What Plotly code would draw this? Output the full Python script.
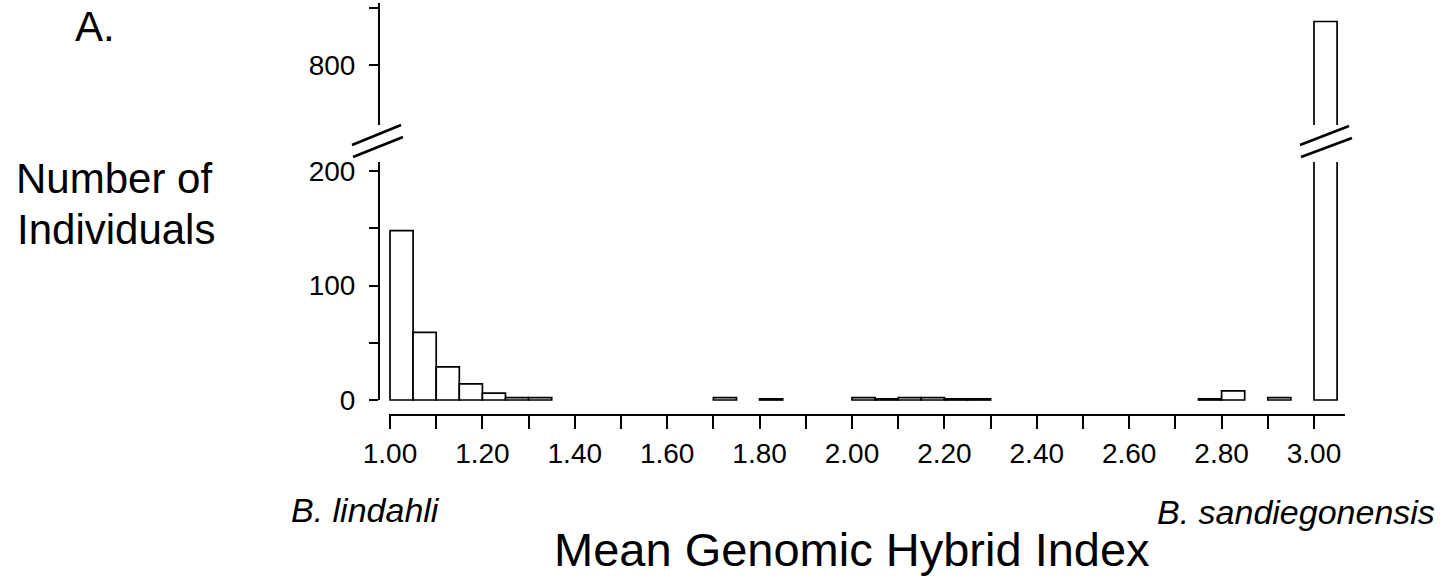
import plotly.graph_objects as go

# ---- data ----
bin_starts = [1.00, 1.05, 1.10, 1.15, 1.20, 1.25, 1.30, 1.70, 1.80,
              2.00, 2.05, 2.10, 2.15, 2.20, 2.25, 2.75, 2.80, 2.90, 3.00]
counts = [148, 59, 29, 14, 6, 2, 2, 2, 1,
          2, 1, 2, 2, 1, 1, 1, 8, 2, 838]
bin_width = 0.05

x_tick_vals = [1.0, 1.2, 1.4, 1.6, 1.8, 2.0, 2.2, 2.4, 2.6, 2.8, 3.0]
x_tick_text = ["1.00", "1.20", "1.40", "1.60", "1.80", "2.00",
               "2.20", "2.40", "2.60", "2.80", "3.00"]
x_minor_vals = [1.1, 1.3, 1.5, 1.7, 1.9, 2.1, 2.3, 2.5, 2.7, 2.9]
low_tick_vals = [0, 100, 200]
low_minor_vals = [50, 150]
up_tick_vals = [800]
up_minor_vals = [850]

# ---- layout geometry (pixels) ----
W, H = 1441, 577
L, R, T, B = 379, 1345, 3, 415          # plot area edges
PW, PH = R - L, B - T
PX_PER_X = 462.0                         # pixels per unit of x
X_LEFT = 1.0 - (390 - L) / PX_PER_X
X_RIGHT = 1.0 + (R - 390) / PX_PER_X
PX_PER_Y = 1.145                         # pixels per count
Y0_PIX = 400                             # pixel row of zero
LOW_TOP_PIX, UP_BOT_PIX = 162, 125

def px(x):
    return (x - L) / PW

def py(y):
    return (B - y) / PH

low_range = [-(B - Y0_PIX) / PX_PER_Y, (Y0_PIX - LOW_TOP_PIX) / PX_PER_Y]
up_range = [800 - (UP_BOT_PIX - 65) / PX_PER_Y, 800 + (65 - T) / PX_PER_Y]

FONT = "Liberation Sans, Arial, Helvetica, sans-serif"

centers = [s + bin_width / 2 for s in bin_starts]
bar_style = dict(marker=dict(color="white", line=dict(color="black", width=1.7)),
                 width=bin_width, showlegend=False, hoverinfo="x+y")

fig = go.Figure()
fig.add_trace(go.Bar(x=centers, y=counts, yaxis="y", **bar_style))
fig.add_trace(go.Bar(x=centers, y=counts, yaxis="y2", **bar_style))

axis_common = dict(showgrid=False, zeroline=False, showline=False, automargin=False,
                   ticks="outside", tickcolor="black", tickwidth=1.5,
                   tickfont=dict(family=FONT, size=28, color="black"))
minor_common = dict(ticks="outside", tickcolor="black", tickwidth=1.5)

fig.update_layout(
    width=W, height=H, autosize=False,
    margin=dict(l=L, r=W - R, t=T, b=H - B, pad=0, autoexpand=False),
    paper_bgcolor="white", plot_bgcolor="white",
    barmode="overlay",
    xaxis=dict(range=[X_LEFT, X_RIGHT], tickvals=x_tick_vals, ticktext=x_tick_text,
               ticklen=13, minor=dict(tickvals=x_minor_vals, ticklen=13, **minor_common),
               **axis_common),
    yaxis=dict(domain=[0, py(LOW_TOP_PIX)], range=low_range, tickvals=low_tick_vals,
               ticklen=9, ticklabelstandoff=8,
               minor=dict(tickvals=low_minor_vals, ticklen=9, **minor_common),
               **axis_common),
    yaxis2=dict(domain=[py(UP_BOT_PIX), 1], range=up_range, tickvals=up_tick_vals,
                ticklen=9, ticklabelstandoff=8,
                minor=dict(tickvals=up_minor_vals, ticklen=9, **minor_common),
                **axis_common),
)

shapes = []
line_k = dict(color="black", width=2)
# y axis lines
shapes.append(dict(type="line", xref="paper", yref="y", x0=0, x1=0,
                   y0=0, y1=low_range[1], line=line_k))
shapes.append(dict(type="line", xref="paper", yref="y2 domain", x0=0, x1=0,
                   y0=0, y1=1, line=line_k))
# x axis line
shapes.append(dict(type="line", xref="x", yref="paper", x0=X_LEFT + (389 - L) / PX_PER_X,
                   x1=X_RIGHT, y0=0, y1=0, line=line_k))
# break marks
brk = dict(color="black", width=2.6)
for (x0, y0, x1, y1) in [(352, 145, 401, 125), (353, 157, 403, 137),
                         (1300, 145, 1349, 126), (1301, 157, 1352, 138)]:
    shapes.append(dict(type="line", xref="paper", yref="paper",
                       x0=px(x0), y0=py(y0), x1=px(x1), y1=py(y1), line=brk))
fig.update_layout(shapes=shapes)

def ann(text, x, y, size, italic=False, xanchor="center"):
    t = f"<i>{text}</i>" if italic else text
    fig.add_annotation(text=t, xref="paper", yref="paper", x=px(x), y=py(y),
                       xanchor=xanchor, yanchor="middle", showarrow=False,
                       font=dict(family=FONT, size=size, color="black"))

ann("A.", 95, 27, 42)
ann("Number of", 114, 178, 42)
ann("Individuals", 116, 229, 42)
ann("B. lindahli", 365, 510, 34, italic=True)
ann("B. sandiegonensis", 1296, 512, 34, italic=True)
ann("Mean Genomic Hybrid Index", 852, 549, 47)

fig.write_html("out.html")
